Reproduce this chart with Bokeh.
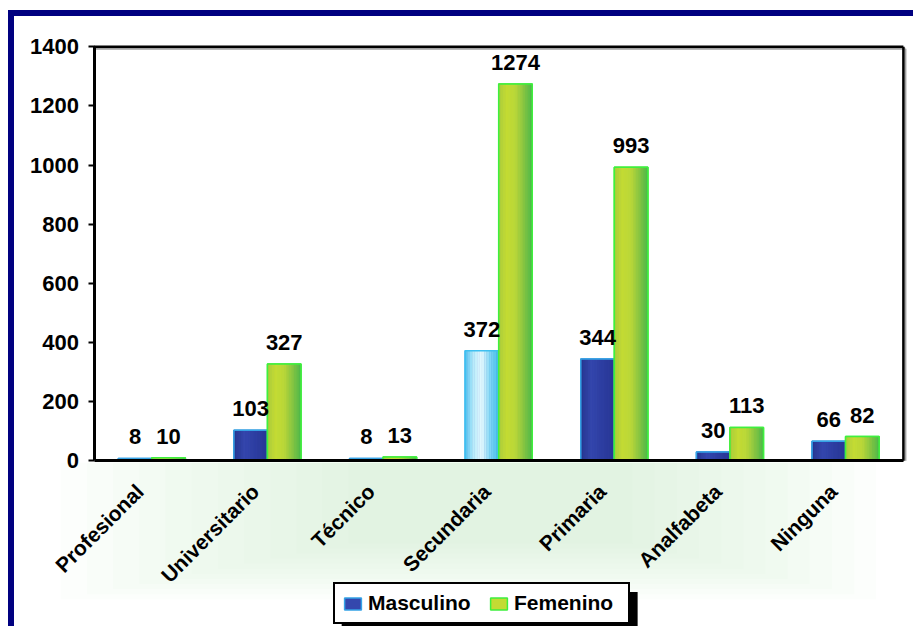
import math
from bokeh.plotting import figure
from bokeh.models import (Range1d, FixedTicker, Legend, LegendItem, BoxAnnotation, ColumnDataSource)
from bokeh.core.properties import value
from bokeh.embed import file_html
from bokeh.resources import INLINE

# ---------------- data ----------------
categories = ["Profesional", "Universitario", "Técnico", "Secundaria", "Primaria", "Analfabeta", "Ninguna"]
masculino = [8, 103, 8, 372, 344, 30, 66]
femenino = [10, 327, 13, 1274, 993, 113, 82]
y_ticks = [0, 200, 400, 600, 800, 1000, 1200, 1400]
series_names = ["Masculino", "Femenino"]

# ---------------- style ----------------
FONT = "Liberation Sans"
BAR_W = 0.29
N_SLICES = 14
masc_stops = ["#27358f", "#3447ad", "#2d3da0", "#283795"]
masc_light_stops = ["#4fc0ee", "#b8ecfb", "#e6f9fe", "#7fd6f5", "#45bdeb"]
fem_stops = ["#a9cb3d", "#c3db34", "#bad73a", "#86c542", "#4bb74b"]
masc_border = "#35a3e6"
fem_border = "#3ef03e"
highlight_cat = "Secundaria"

N = len(categories)
Y_MAX = y_ticks[-1]
# pixel geometry (page pixels)
CANVAS_LEFT, CANVAS_TOP = 14, 16
CANVAS_W, CANVAS_H = 899, 610
FRAME_LEFT = 93          # y-axis line
ORIGIN_Y = 456           # y = 0 line
CAT_PX = 804             # width of category area
VAL_PX = 410             # height of 0..Y_MAX
LABEL_SHIFT_PX = 12


def dx(px):
    return px * N / CAT_PX


def dy(px):
    return px * Y_MAX / VAL_PX


def hex2rgb(h):
    h = h.lstrip("#")
    return tuple(int(h[i:i + 2], 16) for i in (0, 2, 4))


def interp(stops, t):
    n = len(stops) - 1
    pos = t * n
    i = min(int(pos), n - 1)
    f = pos - i
    a, b = hex2rgb(stops[i]), hex2rgb(stops[i + 1])
    c = tuple(round(a[k] + (b[k] - a[k]) * f) for k in range(3))
    return "#%02x%02x%02x" % c


x_start = -dx(FRAME_LEFT - CANVAS_LEFT)
x_end = dx(CANVAS_LEFT + CANVAS_W - FRAME_LEFT)
y_start = -dy(CANVAS_TOP + CANVAS_H - ORIGIN_Y)
y_end = dy(ORIGIN_Y - CANVAS_TOP)

p = figure(width=CANVAS_W, height=CANVAS_H,
           x_range=Range1d(x_start, x_end), y_range=Range1d(y_start, y_end),
           output_backend="svg", toolbar_location=None,
           min_border_left=0, min_border_right=0, min_border_top=0, min_border_bottom=0,
           background_fill_color="white", border_fill_color="white")
p.styles = {"margin-left": "8px", "margin-top": "10px", "box-sizing": "content-box",
            "border-top": "6px solid #000080", "border-left": "6px solid #000080"}
p.xgrid.visible = False
p.ygrid.visible = False
p.outline_line_color = None

# light green band behind category labels (soft, layered)
for k in range(12):
    p.add_layout(BoxAnnotation(left=dx(-33 + 26 * k), right=dx(777 - 22 * k),
                               top=-dy(2), bottom=-dy(137 - 5 * k),
                               fill_color="#d9f6d2", fill_alpha=0.07, line_alpha=0, level="underlay"))

# legend shadow
p.add_layout(BoxAnnotation(left=dx(339 - FRAME_LEFT), right=dx(633 - FRAME_LEFT),
                           top=-dy(586 - ORIGIN_Y), bottom=-dy(625 - ORIGIN_Y),
                           fill_color="black", fill_alpha=1, line_alpha=0, level="underlay"))

centers = [i + 0.5 for i in range(N)]
legend_renderers = []
label_specs = []
for s, vals in enumerate([masculino, femenino]):
    lefts = [c - BAR_W if s == 0 else c for c in centers]
    rights = [l + BAR_W for l in lefts]
    base_color = masc_stops[1] if s == 0 else fem_stops[1]
    border = masc_border if s == 0 else fem_border
    base = p.quad(left=lefts, right=rights, bottom=0, top=vals,
                  fill_color=base_color, line_color=border, line_width=1.5)
    legend_renderers.append(base)
    for j in range(N_SLICES):
        t = (j + 0.5) / N_SLICES
        cols = []
        for cat in categories:
            if s == 0:
                cols.append(interp(masc_light_stops if cat == highlight_cat else masc_stops, t))
            else:
                cols.append(interp(fem_stops, t))
        src = ColumnDataSource(dict(
            left=[l + BAR_W * j / N_SLICES for l in lefts],
            right=[l + BAR_W * (j + 1) / N_SLICES for l in lefts],
            top=vals, color=cols))
        p.quad(left="left", right="right", bottom=0, top="top", source=src,
               fill_color="color", line_color="color", line_width=0.5)
    bcols = ["#3fc0f0" if (s == 0 and cat == highlight_cat) else border for cat in categories]
    p.quad(left=lefts, right=rights, bottom=0, top=vals,
           fill_alpha=0, line_color=bcols, line_width=1.5)
    label_specs.append(([(l + r) / 2 for l, r in zip(lefts, rights)], vals))

# value labels (drawn after all bars)
for xs, vals in label_specs:
    p.text(x=xs, y=vals, text=[str(v) for v in vals],
           text_font=value(FONT), text_font_style="bold", text_font_size="22px",
           text_align="center", text_baseline="bottom", y_offset=-14, text_color="black")

# top and right border of plot area, with a faint grey shadow
p.segment(x0=[dx(2), N + dx(2)], y0=[Y_MAX - dy(2), 0], x1=[N + dx(2), N + dx(2)], y1=[Y_MAX - dy(2), Y_MAX - dy(2)],
          line_color="#a0a0a0", line_width=2)
p.segment(x0=[0, N], y0=[Y_MAX, 0], x1=[N, N], y1=[Y_MAX, Y_MAX], line_color="black", line_width=2.5)

# x axis at y = 0 with rotated category labels
tick_pos = [c - dx(LABEL_SHIFT_PX) for c in centers]
p.xaxis.fixed_location = 0
p.xaxis.bounds = (0, N)
p.xaxis.ticker = FixedTicker(ticks=tick_pos)
p.xaxis.major_label_overrides = {t: cat for t, cat in zip(tick_pos, categories)}
p.xaxis.major_label_orientation = math.pi / 4
p.xaxis.major_label_text_font = FONT
p.xaxis.major_label_text_font_style = "bold"
p.xaxis.major_label_text_font_size = "21px"
p.xaxis.major_label_text_color = "black"
p.xaxis.axis_line_width = 3
p.xaxis.axis_line_color = "black"
p.xaxis.major_tick_line_color = None
p.xaxis.minor_tick_line_color = None
p.xaxis.major_label_standoff = 21

# y axis at x = 0
p.yaxis.fixed_location = 0
p.yaxis.ticker = FixedTicker(ticks=y_ticks)
p.yaxis.bounds = (0, Y_MAX)
p.yaxis.major_label_text_font = FONT
p.yaxis.major_label_text_font_style = "bold"
p.yaxis.major_label_text_font_size = "22px"
p.yaxis.major_label_text_color = "black"
p.yaxis.axis_line_width = 3
p.yaxis.axis_line_color = "black"
p.yaxis.major_tick_line_width = 2
p.yaxis.major_tick_out = 6
p.yaxis.major_tick_in = 0
p.yaxis.minor_tick_line_color = None
p.yaxis.major_label_standoff = 9

legend = Legend(items=[LegendItem(label=n, renderers=[r]) for n, r in zip(series_names, legend_renderers)],
                orientation="horizontal", location=(333 - CANVAS_LEFT, CANVAS_TOP + CANVAS_H - 618),
                label_text_font=FONT, label_text_font_style="bold", label_text_font_size="21px",
                label_text_color="black", glyph_width=21, glyph_height=15,
                border_line_color="black", border_line_width=2, border_line_alpha=1,
                background_fill_color="white",
                background_fill_alpha=1, padding=7, spacing=13, label_standoff=5, margin=0,
                label_width=107, label_height=22)
p.add_layout(legend, "center")

open("out.html", "w").write(file_html(p, INLINE))
